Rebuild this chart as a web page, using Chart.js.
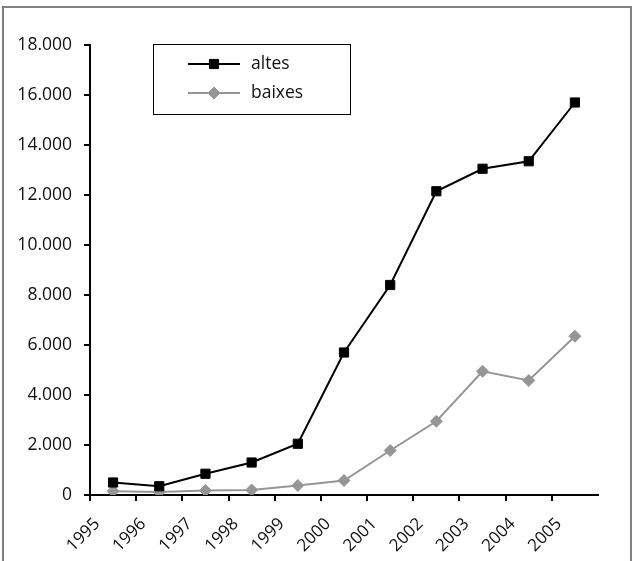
<!DOCTYPE html>
<html>
<head>
<meta charset="utf-8">
<script src="https://cdn.jsdelivr.net/npm/chart.js@4.4.1/dist/chart.umd.min.js"></script>
<style>
  html, body { margin: 0; padding: 0; background: #fff; }
  #wrap { position: relative; width: 634px; height: 561px; overflow: hidden; }
  #frame { position: absolute; left: 2px; top: 6px; width: 626px; height: 600px; border: 2px solid #808080; pointer-events: none; }
  canvas { position: absolute; left: 0; top: 0; }
</style>
</head>
<body>
<div id="wrap">
  <canvas id="c" width="634" height="561"></canvas>
  <div id="frame"></div>
</div>
<script>
const categories = ['1995','1996','1997','1998','1999','2000','2001','2002','2003','2004','2005'];
const altes  = [500, 350, 850, 1300, 2050, 5700, 8400, 12150, 13050, 13350, 15700];
const baixes = [150, 120, 180, 200, 380, 580, 1780, 2950, 4950, 4580, 6350];
const seriesNames = ['altes', 'baixes'];
const yMin = 0, yMax = 18000, yStep = 2000;

const FONT = "'Open Sans', 'DejaVu Sans', sans-serif";
const TXT = '#111';
const FS = 17.5;

function fmt(v) {
  return String(Math.round(v)).replace(/\B(?=(\d{3})+(?!\d))/g, '.');
}

const legendBox = {
  id: 'legendBox',
  afterDraw(chart) {
    const ctx = chart.ctx;
    ctx.save();
    ctx.strokeStyle = '#000';
    ctx.lineWidth = 1;
    ctx.strokeRect(153.5, 44.5, 197, 70);
    const rows = [64, 93];
    chart.data.datasets.forEach((ds, i) => {
      const y = rows[i];
      ctx.strokeStyle = ds.borderColor;
      ctx.lineWidth = ds.borderWidth;
      ctx.beginPath();
      ctx.moveTo(188, y);
      ctx.lineTo(240, y);
      ctx.stroke();
      ctx.fillStyle = ds.pointBackgroundColor;
      ctx.strokeStyle = ds.pointBorderColor;
      ctx.lineWidth = 1;
      Chart.helpers.drawPoint(ctx, {
        pointStyle: ds.pointStyle,
        radius: ds.pointRadius,
        borderWidth: 1,
        rotation: 0
      }, 214, y);
      ctx.fillStyle = TXT;
      ctx.font = FS + 'px ' + FONT;
      ctx.textBaseline = 'middle';
      ctx.textAlign = 'left';
      ctx.fillText(ds.label, 251, y);
    });
    ctx.restore();
  }
};

new Chart(document.getElementById('c'), {
  type: 'line',
  data: {
    labels: categories,
    datasets: [
      {
        label: seriesNames[0],
        data: altes,
        borderColor: '#000',
        backgroundColor: '#000',
        borderWidth: 2,
        pointStyle: 'rect',
        pointRadius: 6.5,
        pointBackgroundColor: '#000',
        pointBorderColor: '#000',
        pointBorderWidth: 1,
        tension: 0
      },
      {
        label: seriesNames[1],
        data: baixes,
        borderColor: '#959595',
        backgroundColor: '#959595',
        borderWidth: 2,
        pointStyle: 'rectRot',
        pointRadius: 6,
        pointBackgroundColor: '#959595',
        pointBorderColor: '#959595',
        pointBorderWidth: 1,
        tension: 0
      }
    ]
  },
  options: {
    responsive: false,
    animation: false,
    layout: { padding: { top: 45, right: 36, left: 0, bottom: 0 } },
    plugins: { legend: { display: false }, tooltip: { enabled: false } },
    scales: {
      x: {
        offset: true,
        grid: {
          offset: true, drawOnChartArea: false, drawTicks: true, tickLength: 6, lineWidth: 2,
          color: (c) => (c.type === 'tick' ? '#000' : 'rgba(0,0,0,0)')
        },
        border: { color: '#000', width: 2 },
        ticks: {
          color: TXT, font: { family: FONT, size: 17 },
          maxRotation: 45, minRotation: 45, autoSkip: false, padding: 13, labelOffset: -16
        },
        afterFit(s) { s.height = 66; }
      },
      y: {
        min: yMin, max: yMax,
        grid: { drawOnChartArea: false, drawTicks: true, tickLength: 6, color: '#000', lineWidth: 2 },
        border: { color: '#000', width: 2 },
        ticks: {
          stepSize: yStep, color: TXT, font: { family: FONT, size: FS }, padding: 12,
          callback: (v) => fmt(v)
        },
        afterFit(s) { s.width = 90; }
      }
    }
  },
  plugins: [legendBox]
});
</script>
</body>
</html>
